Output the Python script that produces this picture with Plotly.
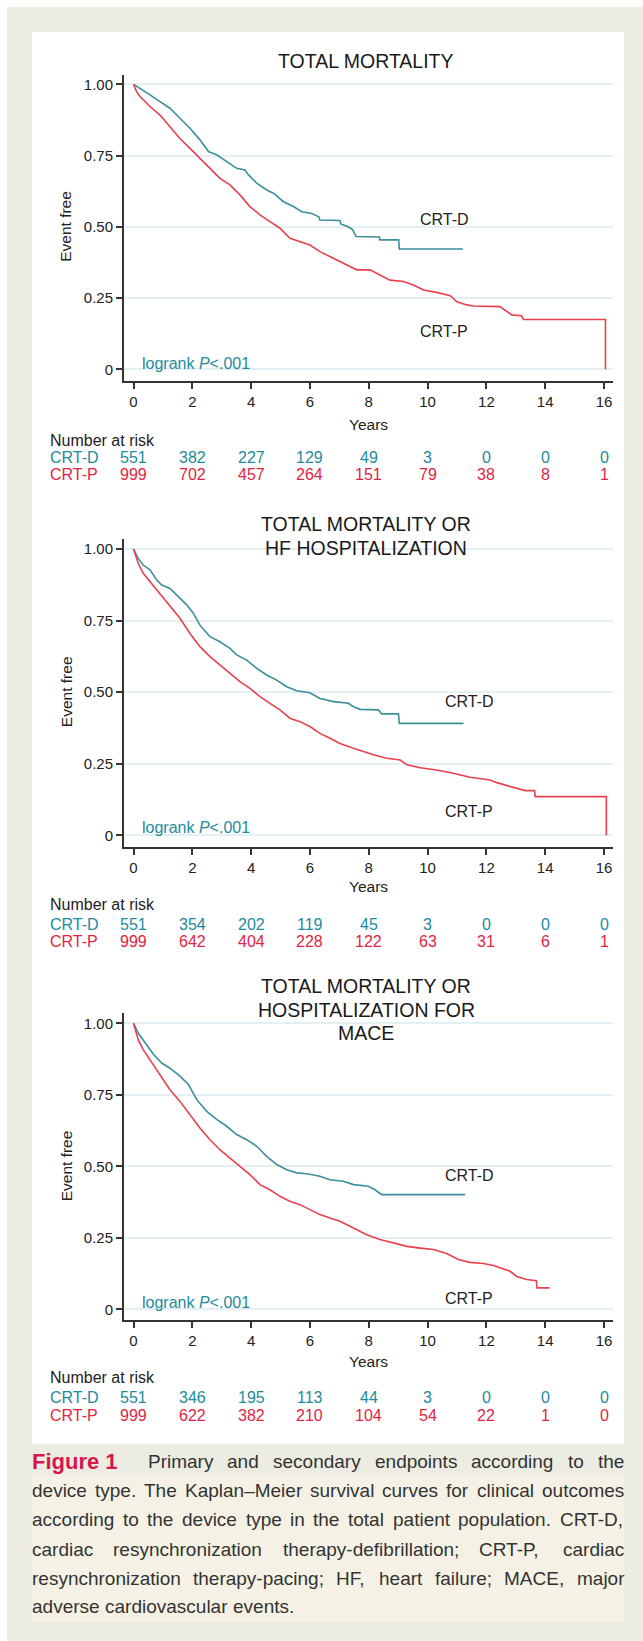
import plotly.graph_objects as go

# ---------------- data ----------------
x_ticks = [0, 2, 4, 6, 8, 10, 12, 14, 16]
y_ticks = [0, 0.25, 0.5, 0.75, 1.0]
y_tick_text = ["0", "0.25", "0.50", "0.75", "1.00"]
risk_years = [0, 2, 4, 6, 8, 10, 12, 14, 16]
groups = ["CRT-D", "CRT-P"]
logrank_text = "logrank <i>P</i>&lt;.001"

title_tm = ["TOTAL MORTALITY"]
title_hf = ["TOTAL MORTALITY OR", "HF HOSPITALIZATION"]
title_mace = ["TOTAL MORTALITY OR", "HOSPITALIZATION FOR", "MACE"]

# Total mortality
tm_d_t = [0, .22, .56, .9, 1.24, 1.58, 1.92, 2.26, 2.55, 2.84, 3.17, 3.51, 3.79, 3.91, 4.19, 4.53, 4.76,
          5.1, 5.44, 5.72, 6.06, 6.3, 6.34, 7.02, 7.05, 7.3, 7.45, 7.57, 8.36, 8.38, 9.02, 9.04, 11.2]
tm_d_s = [1, .986, .963, .939, .916, .881, .846, .805, .764, .752, .729, .705, .699, .682, .653, .629, .618,
          .588, .571, .553, .547, .535, .524, .522, .51, .5, .49, .466, .464, .454, .454, .422, .422]
tm_p_t = [0, .05, .1, .22, .56, .9, 1.24, 1.58, 1.92, 2.26, 2.6, 2.94, 3.28, 3.62, 3.96, 4.3, 4.64, 4.98,
          5.32, 5.66, 6.0, 6.34, 6.68, 7.02, 7.48, 7.59, 8.04, 8.38, 8.72, 9.18, 9.52, 9.86, 10.31, 10.77,
          11.0, 11.33, 11.56, 12.46, 12.69, 12.86, 13.2, 13.26, 16.05, 16.05]
tm_p_s = [1, .985, .975, .957, .922, .892, .851, .81, .775, .74, .705, .67, .647, .612, .571, .542, .518, .495,
          .46, .448, .436, .413, .395, .378, .354, .349, .349, .331, .313, .308, .296, .278, .27, .258,
          .237, .226, .222, .22, .202, .191, .188, .175, .175, 0]

# Total mortality or HF hospitalization
hf_d_t = [0, .16, .33, .56, .79, .96, 1.24, 1.53, 1.81, 2.04, 2.26, 2.6, 2.94, 3.28, 3.51, 3.85, 4.19, 4.53,
          4.87, 5.21, 5.55, 6.0, 6.34, 6.8, 7.31, 7.48, 7.71, 8.33, 8.44, 9.01, 9.04, 11.22]
hf_d_s = [1, .967, .944, .927, .892, .874, .862, .834, .805, .775, .734, .694, .676, .653, .63, .612, .583, .56,
          .542, .519, .505, .498, .478, .467, .461, .449, .44, .438, .424, .424, .391, .391]
hf_p_t = [0, .16, .33, .56, .9, 1.24, 1.58, 1.92, 2.26, 2.6, 2.94, 3.28, 3.62, 3.96, 4.3, 4.64, 4.98, 5.32,
          5.66, 6.0, 6.34, 6.68, 7.02, 7.48, 7.82, 8.16, 8.61, 9.07, 9.3, 9.75, 10.31, 10.88, 11.44, 12.13,
          12.35, 12.81, 13.32, 13.64, 13.66, 16.08, 16.08]
hf_p_s = [1, .95, .915, .886, .845, .799, .758, .705, .659, .624, .595, .566, .537, .513, .484, .461, .438, .409,
          .397, .38, .356, .339, .321, .304, .292, .281, .269, .263, .246, .236, .228, .217, .203, .193,
          .184, .172, .156, .156, .135, .135, 0]

# Total mortality or hospitalization for MACE
mace_d_t = [0, .16, .4, .69, .96, 1.24, 1.58, 1.87, 2.15, 2.49, 2.84, 3.17, 3.51, 3.85, 4.19, 4.53, 4.87,
            5.21, 5.55, 5.89, 6.34, 6.68, 7.14, 7.48, 7.99, 8.21, 8.44, 11.28]
mace_d_s = [1, .966, .931, .89, .861, .843, .815, .786, .733, .692, .663, .64, .611, .593, .57, .535, .506,
            .488, .477, .474, .465, .453, .448, .436, .43, .418, .401, .401]
mace_p_t = [0, .16, .33, .56, .9, 1.24, 1.58, 1.92, 2.26, 2.6, 2.94, 3.28, 3.62, 3.96, 4.3, 4.64, 4.98, 5.32,
            5.66, 6.0, 6.34, 6.68, 7.02, 7.48, 7.93, 8.38, 8.84, 9.3, 9.75, 10.2, 10.65, 11.05, 11.44, 11.9,
            12.24, 12.47, 12.81, 13.03, 13.37, 13.7, 13.72, 14.15]
mace_p_s = [1, .943, .908, .873, .821, .768, .727, .681, .634, .593, .558, .529, .5, .471, .436, .418, .395, .378,
            .366, .348, .331, .319, .308, .284, .261, .244, .232, .22, .214, .209, .195, .174, .164, .16,
            .153, .145, .133, .115, .104, .1, .075, .075]

nar_tm_d = [551, 382, 227, 129, 49, 3, 0, 0, 0]
nar_tm_p = [999, 702, 457, 264, 151, 79, 38, 8, 1]
nar_hf_d = [551, 354, 202, 119, 45, 3, 0, 0, 0]
nar_hf_p = [999, 642, 404, 228, 122, 63, 31, 6, 1]
nar_mace_d = [551, 346, 195, 113, 44, 3, 0, 0, 0]
nar_mace_p = [999, 622, 382, 210, 104, 54, 22, 1, 0]

caption_label = "Figure 1"
caption_lines = [
    "Primary and secondary endpoints according to the",
    "device type. The Kaplan–Meier survival curves for clinical outcomes",
    "according to the device type in the total patient population. CRT-D,",
    "cardiac resynchronization therapy-defibrillation; CRT-P, cardiac",
    "resynchronization therapy-pacing; HF, heart failure; MACE, major",
    "adverse cardiovascular events.",
]

# ---------------- styling / layout ----------------
W, H = 643, 1641
FONT = "Liberation Sans, Arial, Helvetica, sans-serif"
TEAL_LINE, RED_LINE = "#3a8f9b", "#e8404e"
TEAL_TXT, RED_TXT = "#1e8b9b", "#e3243f"
INK = "#222222"
GRID = "#e3eff3"


def X(px):
    return px / W


def Y(py):
    return 1 - py / H


X0_PX, X16_PX = 133.5, 604.0
AX_L, AX_R = 124.0, 613.0
xs = (X16_PX - X0_PX) / 16
x_range = [(AX_L - X0_PX) / xs, (AX_R - X0_PX) / xs]

panels = [
    dict(titles=title_tm, d=(tm_d_t, tm_d_s), p=(tm_p_t, tm_p_s), nd=nar_tm_d, np_=nar_tm_p,
         y1=84.3, y0=369.3, top=75.0, bot=380.7, tpos=[60.7], years=424.0, nar=440.0, rd=457.7, rp=474.3,
         lab_d=(10.56, .527), lab_p=(10.56, .132), lr=(0.30, .021), mask=None),
    dict(titles=title_hf, d=(hf_d_t, hf_d_s), p=(hf_p_t, hf_p_s), nd=nar_hf_d, np_=nar_hf_p,
         y1=549.0, y0=835.3, top=539.3, bot=846.7, tpos=[524.0, 548.3], years=886.7, nar=904.0, rd=924.0,
         rp=941.0, lab_d=(11.42, .467), lab_p=(11.42, .083), lr=(0.30, .027), mask=(229, 529)),
    dict(titles=title_mace, d=(mace_d_t, mace_d_s), p=(mace_p_t, mace_p_s), nd=nar_mace_d, np_=nar_mace_p,
         y1=1023.3, y0=1309.3, top=1013.3, bot=1320.0, tpos=[986.0, 1010.0, 1033.3], years=1361.7,
         nar=1377.7, rd=1397.3, rp=1415.7, lab_d=(11.42, .467), lab_p=(11.42, .037), lr=(0.30, .024),
         mask=(125, 609)),
]

fig = go.Figure()
annotations = []
shapes = [
    dict(type="rect", xref="paper", yref="paper", x0=X(7), x1=X(643), y0=Y(1641), y1=Y(7),
         fillcolor="#edece2", line=dict(width=0), layer="below"),
    dict(type="rect", xref="paper", yref="paper", x0=X(32), x1=X(624), y0=Y(1444), y1=Y(32),
         fillcolor="#ffffff", line=dict(width=0), layer="below"),
    dict(type="rect", xref="paper", yref="paper", x0=X(32), x1=X(624), y0=Y(1622), y1=Y(1475),
         fillcolor="#f5f2e5", line=dict(width=0), layer="below"),
]

layout_axes = {}
for i, p in enumerate(panels, start=1):
    sfx = "" if i == 1 else str(i)
    xa, ya = "x" + sfx, "y" + sfx
    scale = p["y0"] - p["y1"]
    yr = [-(p["bot"] - p["y0"]) / scale, 1 + (p["y1"] - p["top"]) / scale]

    layout_axes["xaxis" + sfx] = dict(
        domain=[X(AX_L), X(AX_R)], range=x_range, anchor=ya, tickvals=x_ticks,
        ticks="outside", ticklen=6, tickwidth=1.5, tickcolor="#333", showline=True, linecolor="#333",
        linewidth=2, showgrid=False, zeroline=False, tickfont=dict(size=15, color=INK, family=FONT),
        fixedrange=True)
    layout_axes["yaxis" + sfx] = dict(
        domain=[Y(p["bot"]), Y(p["top"])], range=yr, anchor=xa, tickvals=y_ticks, ticktext=y_tick_text,
        ticks="outside", ticklen=6, tickwidth=1.5, tickcolor="#333", showline=True, linecolor="#333",
        linewidth=2, showgrid=True, gridcolor=GRID, gridwidth=2, zeroline=False,
        tickfont=dict(size=15, color=INK, family=FONT), fixedrange=True)

    for (tt, ss), col in ((p["d"], TEAL_LINE), (p["p"], RED_LINE)):
        fig.add_trace(go.Scatter(x=tt, y=ss, mode="lines", line=dict(shape="linear", color=col, width=1.6),
                                 xaxis=xa, yaxis=ya, showlegend=False, hoverinfo="skip"))

    if p["mask"]:
        m0, m1 = p["mask"]
        shapes.append(dict(type="rect", xref="paper", yref=ya, x0=X(m0), x1=X(m1), y0=0.993, y1=1.007,
                           fillcolor="#ffffff", line=dict(width=0), layer="between"))

    for line, ty in zip(p["titles"], p["tpos"]):
        annotations.append(dict(text=line, xref="paper", yref="paper", x=X(366), y=Y(ty), showarrow=False,
                                xanchor="center", yanchor="middle", font=dict(size=19.5, color="#1a1a1a", family=FONT)))

    annotations.append(dict(text="Event free", xref="paper", yref="paper", x=X(66),
                            y=Y(p["y0"] - 0.5 * scale), textangle=-90, showarrow=False,
                            xanchor="center", yanchor="middle", font=dict(size=15.5, color=INK, family=FONT)))
    annotations.append(dict(text="Years", xref="paper", yref="paper", x=X(368), y=Y(p["years"]),
                            showarrow=False, xanchor="center", yanchor="middle",
                            font=dict(size=15.5, color=INK, family=FONT)))

    annotations.append(dict(text=groups[0], xref=xa, yref=ya, x=p["lab_d"][0], y=p["lab_d"][1],
                            showarrow=False, xanchor="center", yanchor="middle",
                            font=dict(size=16, color=INK, family=FONT)))
    annotations.append(dict(text=groups[1], xref=xa, yref=ya, x=p["lab_p"][0], y=p["lab_p"][1],
                            showarrow=False, xanchor="center", yanchor="middle",
                            font=dict(size=16, color=INK, family=FONT)))
    annotations.append(dict(text=logrank_text, xref=xa, yref=ya, x=p["lr"][0], y=p["lr"][1],
                            showarrow=False, xanchor="left", yanchor="middle", borderpad=0, borderwidth=0,
                            font=dict(size=16, color=TEAL_TXT, family=FONT)))

    annotations.append(dict(text="Number at risk", xref="paper", yref="paper", x=X(50), y=Y(p["nar"]),
                            showarrow=False, xanchor="left", yanchor="middle", borderpad=0, borderwidth=0,
                            font=dict(size=16, color=INK, family=FONT)))
    for g, vals, ry, col in ((groups[0], p["nd"], p["rd"], TEAL_TXT), (groups[1], p["np_"], p["rp"], RED_TXT)):
        annotations.append(dict(text=g, xref="paper", yref="paper", x=X(50), y=Y(ry), showarrow=False,
                                xanchor="left", yanchor="middle", borderpad=0, borderwidth=0,
                                font=dict(size=16, color=col, family=FONT)))
        for yv, v in zip(risk_years, vals):
            annotations.append(dict(text=str(v), xref=xa, yref="paper", x=yv, y=Y(ry), showarrow=False,
                                    xanchor="center", yanchor="middle",
                                    font=dict(size=16, color=col, family=FONT)))

# ---------------- caption (justified using Arial/Liberation Sans metrics) ----------------
AW = {c: 556 for c in "0123456789"}
AW.update({' ': 278, ',': 278, '-': 333, '.': 278, ';': 278, ':': 278, '–': 556,
           'A': 667, 'B': 667, 'C': 722, 'D': 722, 'E': 667, 'F': 611, 'G': 778, 'H': 722, 'I': 278, 'J': 500,
           'K': 667, 'L': 556, 'M': 833, 'N': 722, 'O': 778, 'P': 667, 'Q': 778, 'R': 722, 'S': 667, 'T': 611,
           'U': 722, 'V': 667, 'W': 944, 'X': 667, 'Y': 667, 'Z': 611,
           'a': 556, 'b': 556, 'c': 500, 'd': 556, 'e': 556, 'f': 278, 'g': 556, 'h': 556, 'i': 222, 'j': 222,
           'k': 500, 'l': 222, 'm': 833, 'n': 556, 'o': 556, 'p': 556, 'q': 556, 'r': 333, 's': 500, 't': 278,
           'u': 556, 'v': 500, 'w': 722, 'x': 500, 'y': 500, 'z': 500})


def text_w(s, size):
    return sum(AW.get(c, 556) for c in s) * size / 1000.0


CAP_SIZE = 19
CAP_L, CAP_R = 32.0, 624.0
cap_y = [1461.0, 1490.0, 1519.3, 1549.3, 1578.3, 1606.7]
CAP_COL = "#333333"

annotations.append(dict(text="<b>" + caption_label + "</b>", xref="paper", yref="paper", x=X(CAP_L),
                        y=Y(cap_y[0]), showarrow=False, xanchor="left", yanchor="middle", borderpad=0,
                        borderwidth=0, font=dict(size=22, color="#d6174f", family=FONT)))

for li, (line, cy) in enumerate(zip(caption_lines, cap_y)):
    words = line.split(" ")
    left = 148.0 if li == 0 else CAP_L
    widths = [text_w(w_, CAP_SIZE) for w_ in words]
    if li < len(caption_lines) - 1 and len(words) > 1:
        gap = (CAP_R - left - sum(widths)) / (len(words) - 1)
    else:
        gap = text_w(" ", CAP_SIZE)
    xpos = left
    for w_, wd in zip(words, widths):
        annotations.append(dict(text=w_, xref="paper", yref="paper", x=X(xpos), y=Y(cy), showarrow=False,
                                xanchor="left", yanchor="middle", borderpad=0, borderwidth=0,
                                font=dict(size=CAP_SIZE, color=CAP_COL, family=FONT)))
        xpos += wd + gap

fig.update_layout(
    width=W, height=H, autosize=False, margin=dict(l=0, r=0, t=0, b=0),
    paper_bgcolor="#ffffff", plot_bgcolor="rgba(0,0,0,0)",
    annotations=annotations, shapes=shapes, font=dict(family=FONT, color=INK),
    **layout_axes,
)

fig.write_html("out.html", config={"displayModeBar": False},
               post_script="document.body.style.margin='0';document.body.style.padding='0';"
                           "document.body.style.overflow='hidden';")
